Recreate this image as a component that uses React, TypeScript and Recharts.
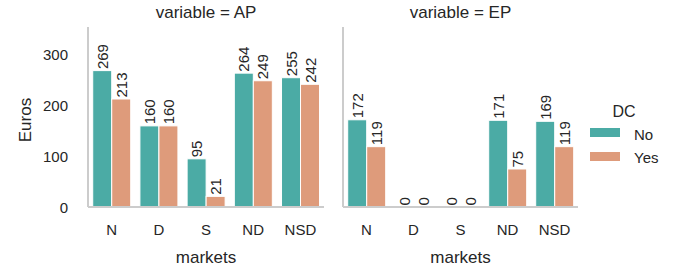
import React from 'react';
import { BarChart, Bar, XAxis, YAxis, Label, Legend } from 'recharts';

const categories = ['N', 'D', 'S', 'ND', 'NSD'];
const apNo = [269, 160, 95, 264, 255];
const apYes = [213, 160, 21, 249, 242];
const epNo = [172, 0, 0, 171, 169];
const epYes = [119, 0, 0, 75, 119];
const yTicks = [0, 100, 200, 300];
const panelTitles = ['variable = AP', 'variable = EP'];
const hueNames = ['No', 'Yes'];

const TEAL = '#4BABA5';
const ORANGE = '#DE9B7B';
const TEXT = '#262626';
const SPINE = '#CCCCCC';
const FONT = '"Liberation Sans", Arial, sans-serif';

const apData = categories.map((c, i) => ({ market: c, No: apNo[i], Yes: apYes[i] }));
const epData = categories.map((c, i) => ({ market: c, No: epNo[i], Yes: epYes[i] }));

const makeShape = (key: string, fill: string) => (props: any) => {
  const x = Number(props.x);
  const y = Number(props.y);
  const width = Number(props.width);
  const height = Number(props.height);
  const value = props.payload ? props.payload[key] : props.value;
  const cx = x + width / 2;
  const top = Math.min(y, y + height);
  return (
    <g>
      {height > 0 ? (
        <rect x={x} y={y} width={width} height={height} fill={fill} stroke="#fff" strokeWidth={1} />
      ) : null}
      <text
        transform={`translate(${cx},${top - 1.5}) rotate(-90)`}
        textAnchor="start"
        dominantBaseline="central"
        fontSize={15}
        fontFamily={FONT}
        fill={TEXT}
      >
        {String(value)}
      </text>
    </g>
  );
};

const XTick = (props: any) => {
  const { x, y, payload } = props;
  return (
    <text x={x} y={Number(y) + 20} textAnchor="middle" fontSize={15} fontFamily={FONT} fill={TEXT}>
      {payload.value}
    </text>
  );
};

const YTick = (props: any) => {
  const { y, payload } = props;
  return (
    <text x={68} y={Number(y)} textAnchor="end" dominantBaseline="central" fontSize={15} fontFamily={FONT} fill={TEXT}>
      {payload.value}
    </text>
  );
};

const makeXLabels = (title: string) => (props: any) => {
  const vb = props.viewBox || {};
  const cx = Number(vb.x) + Number(vb.width) / 2;
  return (
    <g>
      <text x={cx} y={263} textAnchor="middle" fontSize={17} fontFamily={FONT} fill={TEXT}>
        markets
      </text>
      <text x={cx} y={18} textAnchor="middle" fontSize={17} fontFamily={FONT} fill={TEXT}>
        {title}
      </text>
    </g>
  );
};

const euroLabel = () => (
  <text
    x={25}
    y={120}
    transform="rotate(-90,25,120)"
    textAnchor="middle"
    dominantBaseline="central"
    fontSize={17}
    fontFamily={FONT}
    fill={TEXT}
  >
    Euros
  </text>
);

const legendContent = () => (
  <svg width={100} height={75} style={{ display: 'block' }}>
    <text x={44} y={22} textAnchor="middle" fontSize={16} fontFamily={FONT} fill={TEXT}>
      DC
    </text>
    <rect x={10} y={33} width={30} height={9} fill={TEAL} />
    <text x={54} y={45} fontSize={15} fontFamily={FONT} fill={TEXT}>
      {hueNames[0]}
    </text>
    <rect x={10} y={57} width={30} height={9} fill={ORANGE} />
    <text x={54} y={68} fontSize={15} fontFamily={FONT} fill={TEXT}>
      {hueNames[1]}
    </text>
  </svg>
);

const Y_DOMAIN = [0, 355];

export default function App() {
  return (
    <div style={{ position: 'absolute', left: 0, top: 0, width: 685, height: 271, background: '#fff', overflow: 'hidden' }}>
      <div style={{ position: 'absolute', left: 0, top: 0 }}>
        <BarChart
          width={340}
          height={271}
          data={apData}
          margin={{ top: 27, right: 16, bottom: 0, left: 0 }}
          barCategoryGap="10%"
          barGap={0}
        >
          <XAxis
            dataKey="market"
            height={64}
            axisLine={{ stroke: SPINE, strokeWidth: 2 }}
            tickLine={false}
            tick={<XTick />}
            interval={0}
          >
            <Label content={makeXLabels(panelTitles[0])} />
          </XAxis>
          <YAxis
            width={88}
            domain={Y_DOMAIN}
            ticks={yTicks}
            axisLine={{ stroke: SPINE, strokeWidth: 2 }}
            tickLine={false}
            tick={<YTick />}
          >
            <Label content={euroLabel} />
          </YAxis>
          <Bar dataKey="No" fill={TEAL} shape={makeShape('No', TEAL)} isAnimationActive={false} />
          <Bar dataKey="Yes" fill={ORANGE} shape={makeShape('Yes', ORANGE)} isAnimationActive={false} />
        </BarChart>
      </div>
      <div style={{ position: 'absolute', left: 340, top: 0 }}>
        <BarChart
          width={345}
          height={271}
          data={epData}
          margin={{ top: 27, right: 107, bottom: 0, left: 0 }}
          barCategoryGap="10%"
          barGap={0}
        >
          <XAxis
            dataKey="market"
            height={64}
            axisLine={{ stroke: SPINE, strokeWidth: 2 }}
            tickLine={false}
            tick={<XTick />}
            interval={0}
          >
            <Label content={makeXLabels(panelTitles[1])} />
          </XAxis>
          <YAxis
            width={3}
            domain={Y_DOMAIN}
            ticks={yTicks}
            axisLine={{ stroke: SPINE, strokeWidth: 2 }}
            tickLine={false}
            tick={false}
          />
          <Legend
            layout="vertical"
            align="center"
            verticalAlign="middle"
            content={legendContent}
            wrapperStyle={{ left: 240, top: 95, width: 100, height: 75 }}
          />
          <Bar dataKey="No" fill={TEAL} shape={makeShape('No', TEAL)} isAnimationActive={false} />
          <Bar dataKey="Yes" fill={ORANGE} shape={makeShape('Yes', ORANGE)} isAnimationActive={false} />
        </BarChart>
      </div>
    </div>
  );
}
